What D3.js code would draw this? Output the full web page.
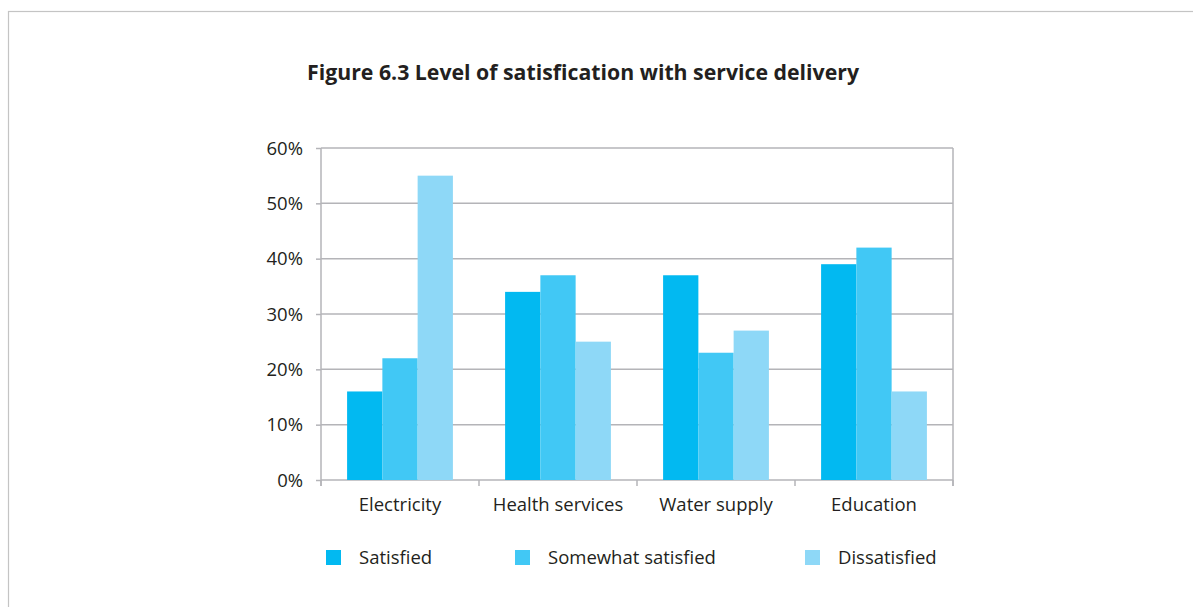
<!DOCTYPE html>
<html>
<head>
<meta charset="utf-8">
<script src="https://cdn.jsdelivr.net/npm/d3@7"></script>
<style>
  html, body { margin: 0; padding: 0; background: #fff; }
  svg { display: block; }
  text { font-family: "Open Sans", "Noto Sans", sans-serif; fill: #231f20; }
</style>
</head>
<body>
<svg id="chart" width="1193" height="607"></svg>
<script>
// Service categories and satisfaction shares (percent)
const categories = ["Electricity", "Health services", "Water supply", "Education"];
const seriesNames = ["Satisfied", "Somewhat satisfied", "Dissatisfied"];
const satisfied = [16, 34, 37, 39];
const somewhatSatisfied = [22, 37, 23, 42];
const dissatisfied = [55, 25, 27, 16];
const yTicks = [0, 10, 20, 30, 40, 50, 60];
const colors = ["#02b9f1", "#41c8f5", "#8ed8f7"];
const titleText = "Figure 6.3 Level of satisfication with service delivery";

const series = [satisfied, somewhatSatisfied, dissatisfied];

const svg = d3.select("#chart");
const W = 1193, H = 607;

// outer frame of the figure box
svg.append("rect")
  .attr("x", 8.5).attr("y", 11.5)
  .attr("width", W + 10).attr("height", H + 10)
  .attr("fill", "none").attr("stroke", "#c4c4c4").attr("stroke-width", 1.2);

// title
svg.append("text")
  .attr("x", 583).attr("y", 80)
  .attr("text-anchor", "middle")
  .attr("font-weight", "bold")
  .attr("font-size", 21.5)
  .attr("textLength", 552)
  .attr("lengthAdjust", "spacingAndGlyphs")
  .text(titleText);

const plot = { left: 321, right: 953, top: 148, bottom: 480 };

const x0 = d3.scaleBand().domain(categories).range([plot.left, plot.right]).paddingInner(0).paddingOuter(0);
const x1 = d3.scaleBand().domain(seriesNames).range([0, x0.bandwidth()]).paddingOuter(0.74).paddingInner(0);
const y = d3.scaleLinear().domain([0, 60]).range([plot.bottom, plot.top]);

const gridColor = "#b4b4b8";

// horizontal gridlines
svg.append("g").selectAll("line").data(yTicks).join("line")
  .attr("x1", plot.left).attr("x2", plot.right)
  .attr("y1", d => y(d)).attr("y2", d => y(d))
  .attr("stroke", gridColor).attr("stroke-width", 1.5);

// bars
const groups = svg.append("g").selectAll("g").data(categories).join("g")
  .attr("transform", c => `translate(${x0(c)},0)`);
groups.selectAll("rect")
  .data((c, i) => seriesNames.map((s, j) => ({ s, j, v: series[j][i] })))
  .join("rect")
  .attr("x", d => x1(d.s))
  .attr("width", x1.bandwidth())
  .attr("y", d => y(d.v))
  .attr("height", d => y(0) - y(d.v))
  .attr("fill", d => colors[d.j]);

// y axis
const yAxis = d3.axisLeft(y).tickValues(yTicks).tickSize(5).tickPadding(13)
  .tickFormat(d => d + "%");
const gy = svg.append("g").attr("transform", `translate(${plot.left},0)`).call(yAxis);
gy.select(".domain").remove();
gy.selectAll(".tick line").attr("stroke", gridColor).attr("stroke-width", 1.5);
gy.selectAll(".tick text").attr("font-size", 18.5).attr("fill", "#231f20")
  .attr("font-family", "'Open Sans', sans-serif").attr("dy", "0.34em");
svg.append("line")
  .attr("x1", plot.left).attr("x2", plot.left)
  .attr("y1", plot.top).attr("y2", plot.bottom + 6)
  .attr("stroke", gridColor).attr("stroke-width", 1.5);
svg.append("line")
  .attr("x1", plot.right).attr("x2", plot.right)
  .attr("y1", plot.top).attr("y2", plot.bottom + 6)
  .attr("stroke", gridColor).attr("stroke-width", 1.5);

// category boundary ticks
const bounds = categories.map(c => x0(c)).concat([plot.right]);
svg.append("g").selectAll("line").data(bounds).join("line")
  .attr("x1", d => d).attr("x2", d => d)
  .attr("y1", plot.bottom).attr("y2", plot.bottom + 6)
  .attr("stroke", gridColor).attr("stroke-width", 1.5);

// category labels
svg.append("g").selectAll("text").data(categories).join("text")
  .attr("x", c => x0(c) + x0.bandwidth() / 2)
  .attr("y", 511)
  .attr("text-anchor", "middle")
  .attr("font-size", 18.5)
  .text(c => c);

// legend
const legendX = [326, 515, 805];
const lg = svg.append("g").selectAll("g").data(seriesNames).join("g")
  .attr("transform", (d, i) => `translate(${legendX[i]},550)`);
lg.append("rect").attr("width", 15).attr("height", 15).attr("fill", (d, i) => colors[i]);
lg.append("text").attr("x", 33).attr("y", 14).attr("font-size", 18.5).text(d => d);
</script>
</body>
</html>
